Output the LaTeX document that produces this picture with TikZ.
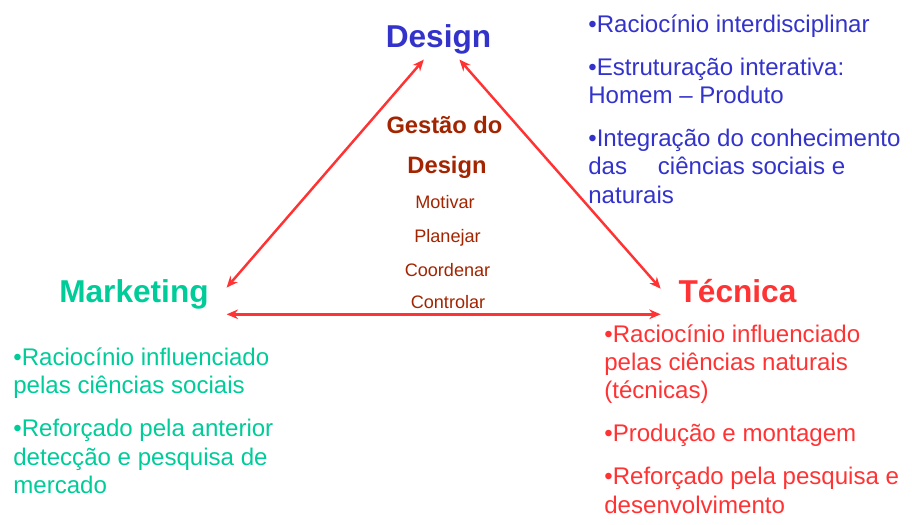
\documentclass[tikz,border=0pt]{standalone}
\usepackage{fontspec}
\setmainfont{Liberation Sans}
\usepackage{xcolor}
\usetikzlibrary{positioning,arrows.meta}
\definecolor{dsblue}{RGB}{51,51,204}
\definecolor{mkgreen}{RGB}{0,204,153}
\definecolor{tcred}{RGB}{255,51,51}
\definecolor{gsbrown}{RGB}{163,36,0}
\tikzset{head/.style = {font=\fontsize{18}{22}\selectfont\bfseries,text height=13pt,text depth=4pt,inner xsep=10pt,inner ysep=2.8pt,anchor=base}}
\tikzset{notes/.style = {font=\fontsize{13.7}{16.1}\selectfont,align=left,inner sep=0pt,anchor=base west}}
\tikzset{task/.style = {text=gsbrown,inner sep=0pt,anchor=base}}
\tikzset{link/.style = {draw=tcred,line width=1.4pt,{Stealth[length=6.5pt,width=5.5pt]}-{Stealth[length=6.5pt,width=5.5pt]}}}

\begin{document}
\begin{tikzpicture}
        \begin{scope}[x=0.02cm,y=-0.02cm]
            \useasboundingbox (0,0) rectangle (912,524);
            % corners of the triangle
            \node [head,text=dsblue] (design) at (438.5,47.3) {Design};
            \node [head,text=mkgreen] (marketing) at (134,302) {Marketing};
            \node [head,text=tcred] (tecnica) at (737.5,302) {Técnica};
            \draw [link] (design.234) -- (marketing.4);
            \draw [link] (design.316) -- (tecnica.176);
            \draw [link] (marketing.south east) -- (tecnica.south west);
            % centre
            \node [task,font=\fontsize{13.5}{16}\selectfont\bfseries] (gestao) at (444.5,133) {Gestão do};
            \node [task,font=\fontsize{13.5}{16}\selectfont\bfseries] (gdesign) at (447,173) {Design};
            \node [task,font=\fontsize{10.3}{12}\selectfont] (motivar) at (445,208) {Motivar};
            \node [task,font=\fontsize{10.3}{12}\selectfont] (planejar) at (447.5,242) {Planejar};
            \node [task,font=\fontsize{10.3}{12}\selectfont] (coordenar) at (447.5,276) {Coordenar};
            \node [task,font=\fontsize{10.3}{12}\selectfont] (controlar) at (448,308) {Controlar};
            % lists (placed by the baseline of their last line)
            \node [notes,text=dsblue] (dnotes) at (588,203) {•Raciocínio interdisciplinar\\[8.3pt]
                •Estruturação interativa:\\Homem – Produto\\[8.3pt]
                •Integração do conhecimento\\das\quad\ ciências sociais e\\naturais};
            \node [notes,text=mkgreen] (mnotes) at (13,493.3) {•Raciocínio influenciado\\pelas ciências sociais\\[8.3pt]
                •Reforçado pela anterior\\detecção e pesquisa de\\mercado};
            \node [notes,text=tcred] (tnotes) at (604,513) {•Raciocínio influenciado\\pelas ciências naturais\\(técnicas)\\[8.3pt]
                •Produção e montagem\\[8.3pt]
                •Reforçado pela pesquisa e\\desenvolvimento};
        \end{scope}
    \end{tikzpicture}
\end{document}
